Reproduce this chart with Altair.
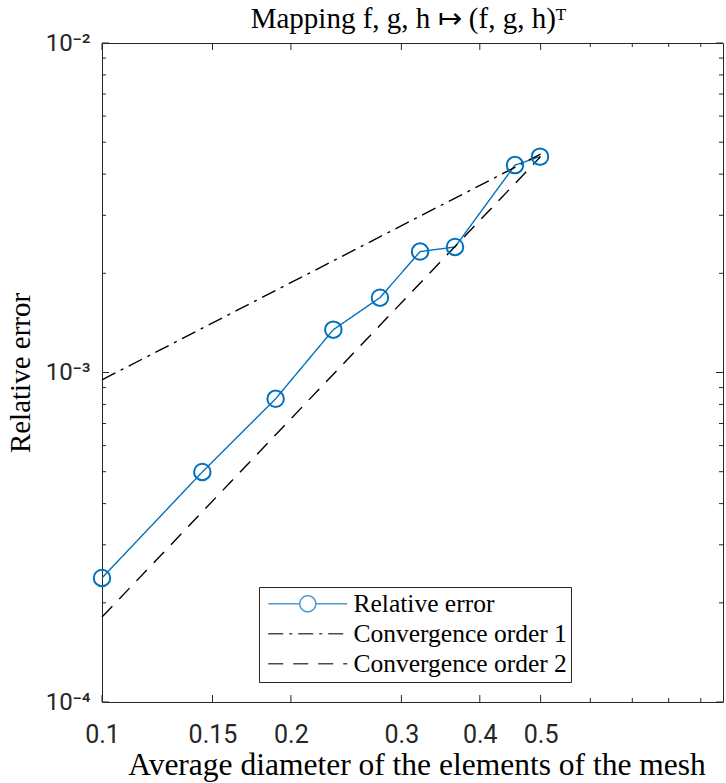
import altair as alt
import pandas as pd

# ---- data ----
h_vals = [0.1, 0.1445, 0.1891, 0.2337, 0.2773, 0.3213, 0.3652, 0.4551, 0.4989]
err_vals = [2.38e-4, 4.99e-4, 8.32e-4, 1.349e-3, 1.687e-3, 2.328e-3, 2.404e-3, 4.26e-3, 4.52e-3]
order1_h = [0.1, 0.5]
order1_err = [9.5e-4, 4.6e-3]
order2_h = [0.1, 0.5]
order2_err = [1.81e-4, 4.52e-3]
series_names = ["Relative error", "Convergence order 1", "Convergence order 2"]

x_major_ticks = [0.1, 0.15, 0.2, 0.3, 0.4, 0.5]
x_minor_ticks = [0.6, 0.7, 0.8, 0.9]
y_major_ticks = [1e-4, 1e-3, 1e-2]
y_minor_ticks = [2e-4, 3e-4, 4e-4, 5e-4, 6e-4, 7e-4, 8e-4, 9e-4,
                 2e-3, 3e-3, 4e-3, 5e-3, 6e-3, 7e-3, 8e-3, 9e-3]

BLUE = "#0072BD"
AXC = "#262626"
W, H = 621, 659
SERIF = "Liberation Serif"
SANS = "Roboto, DejaVu Sans"

lines_df = pd.DataFrame({
    "h": h_vals + order1_h + order2_h,
    "err": err_vals + order1_err + order2_err,
    "series": [series_names[0]] * len(h_vals) + [series_names[1]] * 2 + [series_names[2]] * 2,
})
points_df = pd.DataFrame({"h": h_vals, "err": err_vals})

xscale = alt.Scale(type="log", domain=[0.1, 0.9764], nice=False)
yscale = alt.Scale(type="log", domain=[1e-4, 1e-2], nice=False)

color_scale = alt.Scale(domain=series_names, range=[BLUE, "#000000", "#000000"])
dash_scale = alt.Scale(domain=series_names, range=[[1, 0], [15, 6, 3, 6], [15, 10]])
PATH_MARK = "M-4.94,0H-1A1,1,0,1,1,1,0A1,1,0,1,1,-1,0M1,0H4.94"
PATH_LINE = "M-4.94,0H4.94"
shape_scale = alt.Scale(domain=series_names, range=[PATH_MARK, PATH_LINE, PATH_LINE])

x_enc = alt.X("h:Q", scale=xscale,
              axis=alt.Axis(title="Average diameter of the elements of the mesh",
                            values=x_major_ticks, format="~g", grid=False, ticks=False, domain=False,
                            labelFont=SANS, labelFontSize=25, labelColor=AXC, labelPadding=20,
                            labelFlush=False,
                            titleFont=SERIF, titleFontSize=31.5, titleFontWeight="normal", titleColor="#000",
                            titleX=W / 2 + 4, titleY=63, titleBaseline="middle", titleAnchor="middle"))
y_enc = alt.Y("err:Q", scale=yscale,
              axis=alt.Axis(title="Relative error", values=y_major_ticks,
                            labelExpr="datum.value < 0.0005 ? '10⁻⁴' : (datum.value < 0.005 ? '10⁻³' : '10⁻²')",
                            grid=False, ticks=False, domain=False,
                            labelFont=SANS, labelFontSize=24, labelColor=AXC, labelPadding=12,
                            labelFlush=False,
                            titleFont=SERIF, titleFontSize=29, titleFontWeight="normal", titleColor="#000",
                            titleX=-82, titleY=H / 2, titleAngle=270, titleBaseline="middle",
                            titleAlign="center"))

lines = alt.Chart(lines_df).mark_line(strokeWidth=1.4).encode(
    x=x_enc, y=y_enc,
    color=alt.Color("series:N", scale=color_scale, legend=alt.Legend(title=None)),
    strokeDash=alt.StrokeDash("series:N", scale=dash_scale, legend=alt.Legend(title=None)),
    detail="series:N",
)

legend_layer = alt.Chart(lines_df).transform_filter("false").mark_point(filled=False).encode(
    x=alt.X("h:Q", scale=xscale), y=alt.Y("err:Q", scale=yscale),
    color=alt.Color("series:N", scale=color_scale, legend=alt.Legend(title=None)),
    strokeDash=alt.StrokeDash("series:N", scale=dash_scale, legend=alt.Legend(title=None)),
    shape=alt.Shape("series:N", scale=shape_scale, legend=alt.Legend(title=None)),
)

markers = alt.Chart(points_df).mark_point(shape="circle", filled=False, size=272,
                                          strokeWidth=2, color=BLUE, opacity=1).encode(
    x=alt.X("h:Q", scale=xscale), y=alt.Y("err:Q", scale=yscale))

# inside tick marks
xt_major = pd.DataFrame({"v": x_major_ticks})
xt_minor = pd.DataFrame({"v": x_minor_ticks})
yt_major = pd.DataFrame({"v": y_major_ticks})
yt_minor = pd.DataFrame({"v": y_minor_ticks})

def xticks(df, L):
    b = alt.Chart(df).mark_rule(color=AXC, strokeWidth=1).encode(
        x=alt.X("v:Q", scale=xscale), y=alt.value(H), y2=alt.value(H - L))
    t = alt.Chart(df).mark_rule(color=AXC, strokeWidth=1).encode(
        x=alt.X("v:Q", scale=xscale), y=alt.value(0), y2=alt.value(L))
    return [b, t]

def yticks(df, L):
    l = alt.Chart(df).mark_rule(color=AXC, strokeWidth=1).encode(
        y=alt.Y("v:Q", scale=yscale), x=alt.value(0), x2=alt.value(L))
    r = alt.Chart(df).mark_rule(color=AXC, strokeWidth=1).encode(
        y=alt.Y("v:Q", scale=yscale), x=alt.value(W), x2=alt.value(W - L))
    return [l, r]

tick_layers = xticks(xt_major, 7) + xticks(xt_minor, 4) + yticks(yt_major, 7) + yticks(yt_minor, 4)

chart = alt.layer(*tick_layers, lines, markers, legend_layer).properties(
    width=W, height=H,
    autosize=alt.AutoSizeParams(type="none"),
    padding={"left": 102, "top": 43, "right": 3, "bottom": 81},
    title=alt.TitleParams("Mapping f, g, h ↦ (f, g, h)ᵀ", font=SERIF, fontSize=29,
                          fontWeight="normal", color="#000", anchor="middle",
                          baseline="alphabetic", offset=0, dx=-4, dy=26),
).configure_view(stroke=AXC, strokeWidth=1).configure_legend(
    orient="none", legendX=157, legendY=544,
    strokeColor=AXC, fillColor="white", padding=4,
    symbolSize=256, symbolStrokeWidth=1.5, symbolOffset=32,
    labelFont=SERIF, labelFontSize=25.5, labelColor="#000", labelOffset=33,
    rowPadding=3, labelLimit=400,
).configure_scale(bandPaddingInner=0)

chart.save("out.html", embed_options={"renderer": "svg", "actions": False})
